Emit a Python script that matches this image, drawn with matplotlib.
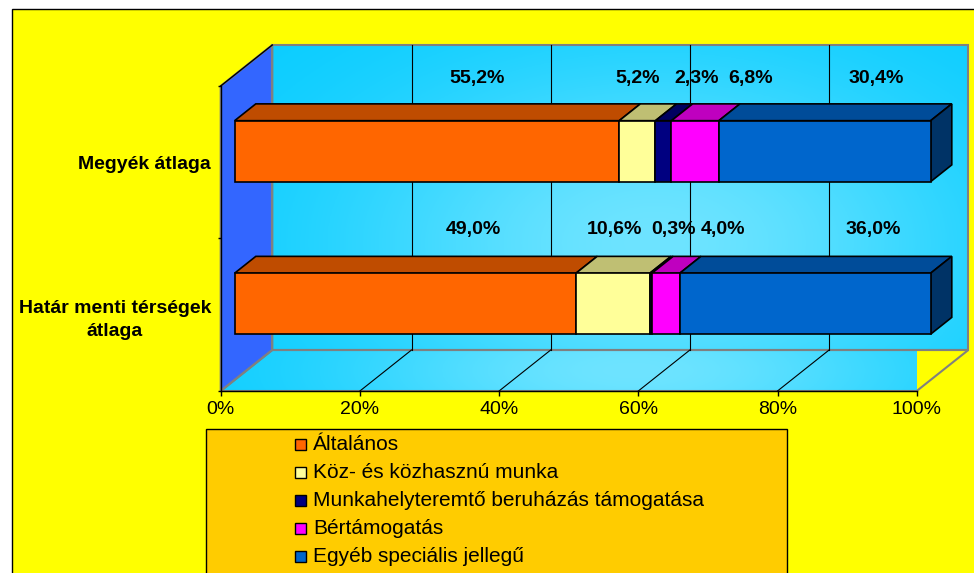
import matplotlib
matplotlib.use('Agg')
import matplotlib.pyplot as plt
import numpy as np
from matplotlib.patches import Polygon, Rectangle
from matplotlib.lines import Line2D
from matplotlib.transforms import IdentityTransform

plt.rcParams['font.family'] = ['Liberation Sans', 'DejaVu Sans']

# --- data -----------------------------------------------------------------
categories = ['Határ menti térségek\nátlaga', 'Megyék átlaga']
series = ['Általános', 'Köz- és közhasznú munka',
          'Munkahelyteremtő beruházás támogatása', 'Bértámogatás',
          'Egyéb speciális jellegű']
hatar_vals = [49.0, 10.6, 0.3, 4.0, 36.0]
megye_vals = [55.2, 5.2, 2.3, 6.8, 30.4]
x_ticks = [0, 20, 40, 60, 80, 100]

# label anchors (percent along the axis, category units), placed by hand
hatar_label_x = [36.3, 56.5, 65.0, 72.2, 93.8]
megye_label_x = [36.8, 59.9, 68.4, 76.2, 94.2]
hatar_label_y = 1.062
megye_label_y = 2.046

# --- styles ---------------------------------------------------------------
front_colors = ['#FF6600', '#FFFF99', '#000080', '#FF00FF', '#0066CC']
top_colors = ['#BF4C00', '#BFBF73', '#000060', '#BF00BF', '#004C99']
side_color = '#003366'
wall_left = '#3366FF'
grey = '#808080'

W, H = 974, 573
DX, DY = 51.6, 41.0          # oblique depth offset in pixels
BAR_D0, BAR_D1 = 0.27, 0.68  # bar depth range
BAR_HALF = 0.2               # half bar thickness in category units

fig = plt.figure(figsize=(W / 100, H / 100), dpi=100)
fig.patch.set_facecolor('white')
fig.add_artist(Rectangle((11.5, -20), 1000, H - 9 + 20 + 0.5, transform=IdentityTransform(),
                         facecolor='#FFFF00', edgecolor='black', lw=1, zorder=-5))

ax = fig.add_axes([220.7 / W, 182 / H, 696 / W, 305 / H])
ax.set_xlim(0, 100)
ax.set_ylim(0, 2)
ax.set_autoscale_on(False)
ax.patch.set_visible(False)


def proj(x, y, d):
    px, py = ax.transData.transform((x, y))
    return (px + DX * d, py + DY * d)


def poly(pts, **kw):
    p = Polygon(pts, closed=True, transform=IdentityTransform(), clip_on=False, **kw)
    ax.add_patch(p)
    return p


def gradient(nx, ny, cx, cy, sx, sy):
    u = np.linspace(0, 1, nx)[None, :]
    v = np.linspace(0, 1, ny)[:, None]
    t = np.exp(-((u - cx) / sx) ** 2 - ((v - cy) / sy) ** 2)
    base = np.array([0x05, 0xCC, 0xFF]) / 255
    light = np.array([0x6E, 0xE4, 0xFF]) / 255
    return base + (light - base) * t[..., None]


# back wall
bw = [proj(0, 0, 1), proj(100, 0, 1), proj(100, 2, 1), proj(0, 2, 1)]
img = gradient(300, 150, 0.55, 0.65, 0.45, 0.6)
im = ax.imshow(img, extent=(bw[0][0], bw[1][0], bw[0][1], bw[2][1]), origin='upper',
               transform=IdentityTransform(), aspect='auto', zorder=0.5)
im.set_clip_on(False)
poly(bw, facecolor='none', edgecolor=grey, lw=1.5, zorder=0.8)

# floor
fl = [proj(0, 0, 0), proj(100, 0, 0), proj(100, 0, 1), proj(0, 0, 1)]
fimg = gradient(300, 40, 0.55, 0.5, 0.4, 2.0)
fim = ax.imshow(fimg, extent=(fl[0][0], fl[2][0], fl[0][1], fl[2][1]), origin='upper',
                transform=IdentityTransform(), aspect='auto', zorder=0.5)
fpatch = poly(fl, facecolor='none', edgecolor=grey, lw=1.5, zorder=0.8)
fim.set_clip_path(fpatch)

# left wall
lw_pts = [proj(0, 0, 0), proj(0, 0, 1), proj(0, 2, 1), proj(0, 2, 0)]
poly(lw_pts, facecolor=wall_left, edgecolor=grey, lw=1.5, zorder=0.7)
top_edge = [proj(0, 2, 0), proj(0, 2, 1)]
ax.add_line(Line2D([p[0] for p in top_edge], [p[1] for p in top_edge],
                   transform=IdentityTransform(), color='black', lw=1, zorder=0.9,
                   clip_on=False))

# gridlines on back wall and floor
for t in x_ticks[1:-1]:
    a, b = proj(t, 0, 1), proj(t, 2, 1)
    ax.add_line(Line2D([a[0], b[0]], [a[1], b[1]], transform=IdentityTransform(),
                       color='black', lw=0.8, zorder=0.9, clip_on=False))
    c = proj(t, 0, 0)
    ax.add_line(Line2D([c[0], a[0]], [c[1], a[1]], transform=IdentityTransform(),
                       color='black', lw=0.8, zorder=0.9, clip_on=False))

# 3D stacked bars
rows = [hatar_vals, megye_vals]
for ci, vals in enumerate(rows):
    vals = np.array(vals)
    shares = vals / vals.sum() * 100
    left = np.concatenate([[0], np.cumsum(shares)[:-1]])
    y0, y1 = ci + 0.5 - BAR_HALF, ci + 0.5 + BAR_HALF
    for si, (l, w) in enumerate(zip(left, shares)):
        r = l + w
        front = [proj(l, y0, BAR_D0), proj(r, y0, BAR_D0),
                 proj(r, y1, BAR_D0), proj(l, y1, BAR_D0)]
        top = [proj(l, y1, BAR_D0), proj(r, y1, BAR_D0),
               proj(r, y1, BAR_D1), proj(l, y1, BAR_D1)]
        poly(top, facecolor=top_colors[si], edgecolor='black', lw=1.2, zorder=2)
        poly(front, facecolor=front_colors[si], edgecolor='black', lw=1.2, zorder=2.1)
        if si == len(shares) - 1:
            side = [proj(r, y0, BAR_D0), proj(r, y1, BAR_D0),
                    proj(r, y1, BAR_D1), proj(r, y0, BAR_D1)]
            poly(side, facecolor=side_color, edgecolor='black', lw=1.2, zorder=2)

# value labels
for vals, xs, yl in [(hatar_vals, hatar_label_x, hatar_label_y),
                     (megye_vals, megye_label_x, megye_label_y)]:
    for v, x in zip(vals, xs):
        ax.text(x, yl, f'{v:.1f}'.replace('.', ',') + '%', ha='center', va='center',
                fontsize=14, fontweight='bold', clip_on=False, zorder=3)

# axes
for s in ['top', 'right']:
    ax.spines[s].set_visible(False)
for s in ['left', 'bottom']:
    ax.spines[s].set_color('black')
    ax.spines[s].set_linewidth(1)
    ax.spines[s].set_zorder(1)
ax.set_xticks(x_ticks)
ax.set_xticklabels([f'{t}%' for t in x_ticks])
ax.tick_params(axis='x', direction='out', length=3.5, width=1, pad=4, labelsize=14)
ax.set_yticks([0, 1, 2])
ax.set_yticklabels([])
ax.set_yticks([0.5, 1.5], minor=True)
ax.set_yticklabels(categories, minor=True, fontsize=14, fontweight='bold')
ax.tick_params(axis='y', which='major', direction='out', length=2.5, width=1)
ax.tick_params(axis='y', which='minor', length=0, pad=7)
for lbl in ax.get_yticklabels(minor=True):
    lbl.set_multialignment('center')
    lbl.set_linespacing(1.5)

# legend box
fig.add_artist(Rectangle((205.5, -10), 787 - 205.5, H - 428.7 + 10, transform=IdentityTransform(),
                         facecolor='#FFCC00', edgecolor='black', lw=1, zorder=5))
for i, (name, col) in enumerate(zip(series, front_colors)):
    yc = H - (444 + 28.2 * i)
    fig.add_artist(Rectangle((294.5, yc - 5.5), 11, 11, transform=IdentityTransform(),
                             facecolor=col, edgecolor='black', lw=1, zorder=6))
    fig.text(313 / W, yc / H, name, ha='left', va='center', fontsize=15, zorder=6)

fig.savefig('out.png', dpi=100)
